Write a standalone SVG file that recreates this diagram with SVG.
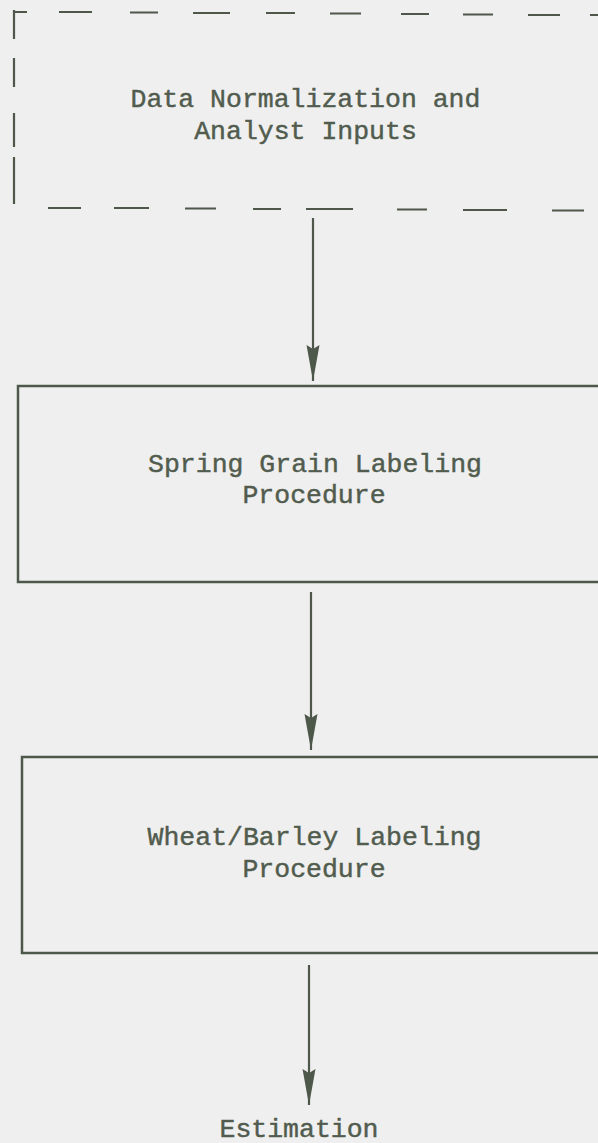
<svg xmlns="http://www.w3.org/2000/svg" width="598" height="1143" viewBox="0 0 598 1143">
<style>
.bg{fill:#efefef}
.ln{stroke:#4d584a;stroke-width:2.2;fill:none;stroke-linecap:butt}
.bx{stroke:#4d584a;stroke-width:2.5;fill:none}
.tx{font-family:"Liberation Mono","DejaVu Sans Mono",monospace;font-size:26.5px;fill:#515c4e;stroke:#515c4e;stroke-width:0.45;text-anchor:middle}
</style>
<defs>
<marker id="ah" markerUnits="userSpaceOnUse" markerWidth="38" markerHeight="16" refX="36" refY="7" orient="auto">
<path d="M0,0.5 L36,7 L0,13.5 L4,7 z" fill="#4d584a"/>
</marker>
</defs>
<rect class="bg" x="0" y="0" width="598" height="1143"/>
<g id="node-data-normalization">
<path class="ln" d="M13,12 L27,12 M59,12 L92,12 M130,12.5 L158,12.5 M193,13 L230,13 M266,13 L295,13 M330,13.5 L361,13.5 M401,14 L429,14 M463,14.5 L493,14.5 M528,15 L560,15 M590,15 L598,15"/>
<path class="ln" d="M14,10 L14,39 M14,58 L14,87 M14,113 L14,147 M14,157 L14,204"/>
<path class="ln" d="M48,208 L81,208 M114,208 L149,208 M185,208.5 L216,208.5 M253,209 L281,209 M306,209 L353,209 M397,209.5 L427,209.5 M463,210 L507,210 M552,210.5 L584,210.5"/>
<text class="tx" x="305.5" y="107">Data Normalization and</text>
<text class="tx" x="305.5" y="139">Analyst Inputs</text>
</g>
<g id="node-spring-grain">
<path class="bx" d="M600,386 L18,386 L18,582 L600,582"/>
<text class="tx" x="315" y="472">Spring Grain Labeling</text>
<text class="tx" x="314" y="503">Procedure</text>
</g>
<g id="node-wheat-barley">
<path class="bx" d="M600,757 L22,757 L22,953 L600,953"/>
<text class="tx" x="314.5" y="845">Wheat/Barley Labeling</text>
<text class="tx" x="314" y="877">Procedure</text>
</g>
<g id="node-estimation">
<text class="tx" x="299" y="1137">Estimation</text>
</g>
<g id="connectors">
<line class="ln" x1="313" y1="218" x2="313" y2="381" marker-end="url(#ah)"/>
<line class="ln" x1="311" y1="592" x2="311" y2="750" marker-end="url(#ah)"/>
<line class="ln" x1="309" y1="965" x2="309" y2="1105" marker-end="url(#ah)"/>
</g>
</svg>
